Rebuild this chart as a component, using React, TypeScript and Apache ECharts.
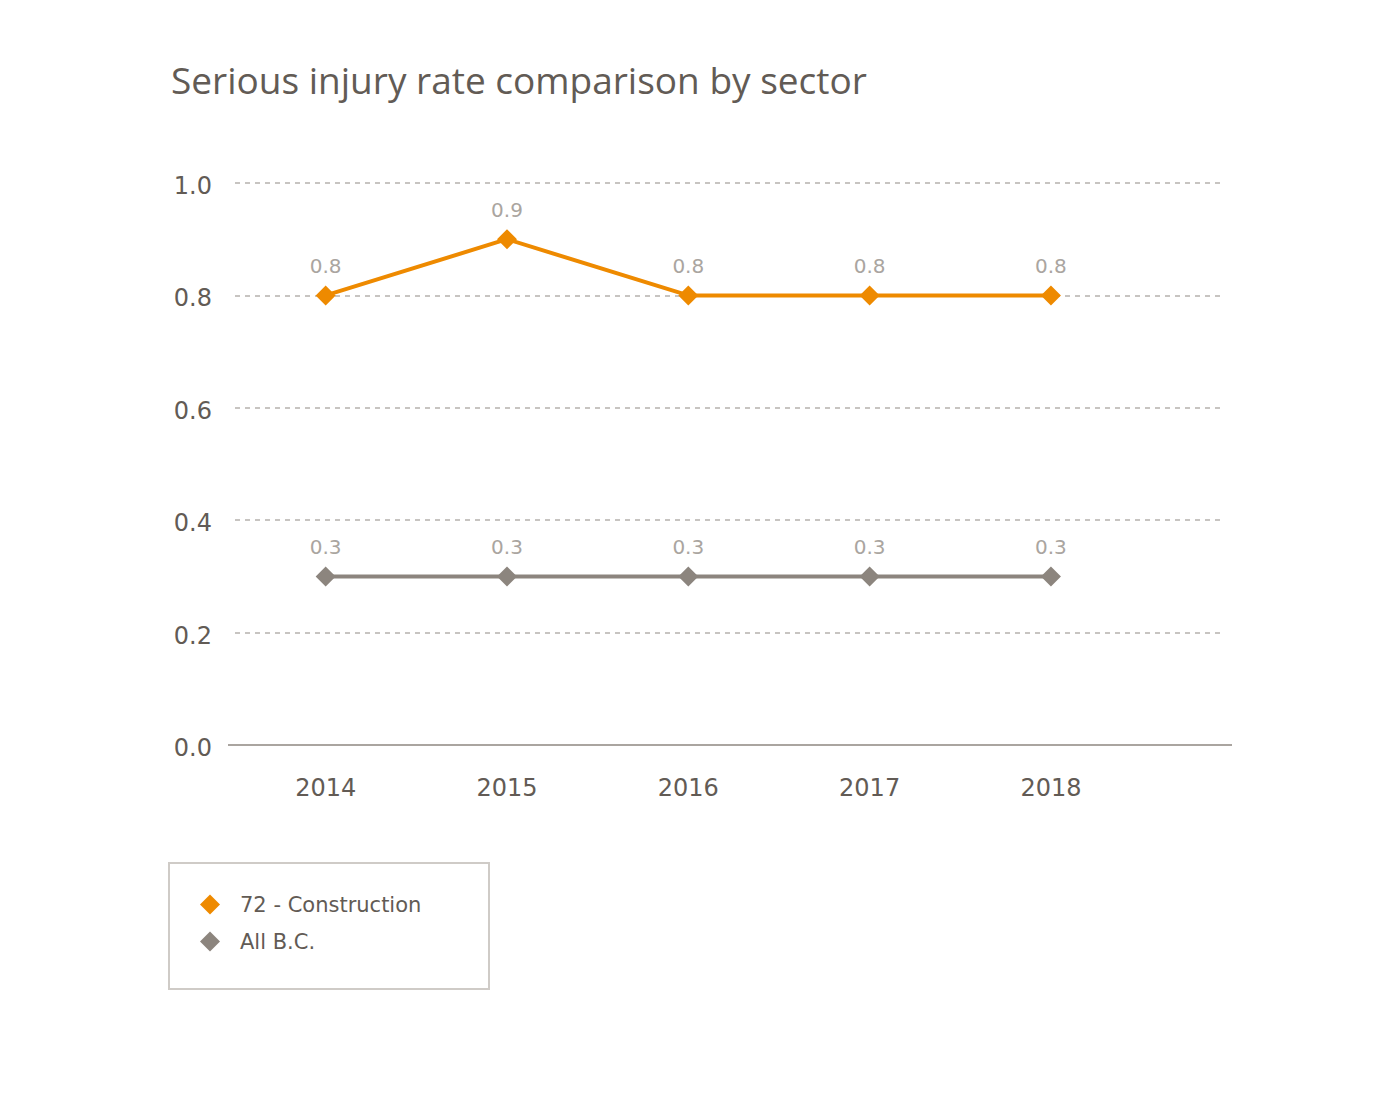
import React, { useEffect, useRef } from "react";
import * as echarts from "echarts";

const titleText = "Serious injury rate comparison by sector";
const years = [2014, 2015, 2016, 2017, 2018];
const seriesNames = ["72 - Construction", "All B.C."];
const construction = [0.8, 0.9, 0.8, 0.8, 0.8];
const allBC = [0.3, 0.3, 0.3, 0.3, 0.3];
const yTicks = [0, 0.2, 0.4, 0.6, 0.8, 1.0];

const ORANGE = "#ee8a00";
const GRAY = "#8c857e";
const TEXT = "#625b55";
const LABEL = "#aaa5a0";

export default function App() {
  const ref = useRef<HTMLDivElement>(null);
  useEffect(() => {
    if (!ref.current) return;
    const chart = echarts.init(ref.current, null, { renderer: "svg" });
    const mkSeries = (name: string, vals: number[], color: string, width: number) => ({
      name,
      type: "line",
      data: years.map((y, i) => [y, vals[i]]),
      symbol: "diamond",
      symbolSize: 20,
      itemStyle: { color },
      lineStyle: { color, width },
      label: {
        show: true,
        position: "top",
        distance: 9,
        color: LABEL,
        fontSize: 20,
        fontFamily: "DejaVu Sans",
        formatter: (p: any) => Number(p.value[1]).toFixed(1),
      },
    });
    chart.setOption({
      animation: false,
      backgroundColor: "#ffffff",
      title: {
        text: titleText,
        left: 166,
        top: 56,
        textStyle: { color: TEXT, fontSize: 37, fontWeight: "normal", fontFamily: "Open Sans" },
      },
      grid: { left: 235, right: 155, top: 183, bottom: 349 },
      xAxis: {
        type: "value",
        min: 2013.5,
        max: 2018.96,
        axisLine: { show: false },
        axisTick: { show: false },
        splitLine: { show: false },
        axisLabel: {
          customValues: years,
          color: TEXT,
          fontSize: 24,
          fontFamily: "DejaVu Sans",
          margin: 31,
          formatter: (v: number) => String(v),
        },
      },
      yAxis: {
        type: "value",
        min: yTicks[0],
        max: yTicks[yTicks.length - 1],
        interval: 0.2,
        axisLine: { show: false },
        axisTick: { show: false },
        axisLabel: {
          color: TEXT,
          fontSize: 24,
          fontFamily: "DejaVu Sans",
          margin: 23,
          verticalAlign: "top",
          padding: [-9, 0, 0, 0],
          formatter: (v: number) => v.toFixed(1),
        },
        splitLine: { lineStyle: { color: "#b5b1ad", type: [5, 5], width: 1.5 } },
      },
      legend: {
        orient: "vertical",
        left: 195,
        top: 889,
        itemWidth: 20,
        itemHeight: 20,
        itemGap: 16,
        icon: "diamond",
        data: seriesNames,
        textStyle: { color: TEXT, fontSize: 21, fontFamily: "DejaVu Sans", padding: [0, 0, 0, 15] },
      },
      graphic: [
        {
          type: "rect",
          shape: { x: 169, y: 863, width: 320, height: 126 },
          style: { fill: "none", stroke: "#cfcbc7", lineWidth: 2 },
          z: -1,
        },
        {
          type: "line",
          shape: { x1: 228, y1: 745, x2: 1232, y2: 745 },
          style: { stroke: "#aaa5a0", lineWidth: 2 },
          z: 1,
        },
      ],
      series: [
        mkSeries(seriesNames[0], construction, ORANGE, 4),
        mkSeries(seriesNames[1], allBC, GRAY, 4),
      ],
    });
    return () => chart.dispose();
  }, []);
  return (
    <div
      ref={ref}
      style={{ position: "fixed", left: 0, top: 0, width: 1380, height: 1094 }}
    />
  );
}
